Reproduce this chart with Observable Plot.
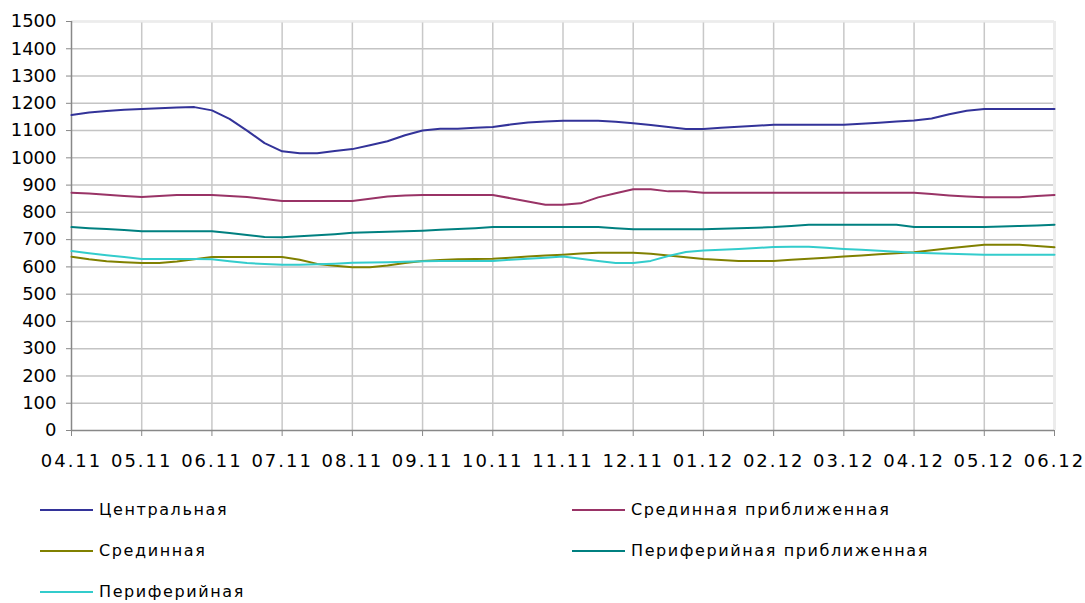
<!DOCTYPE html>
<html>
<head>
<meta charset="utf-8">
<script src="https://cdn.jsdelivr.net/npm/d3@7"></script>
<script src="https://cdn.jsdelivr.net/npm/@observablehq/plot@0.6"></script>
<style>
  html, body { margin: 0; padding: 0; background: #fff; }
  #wrap { width: 1085px; height: 603px; position: relative; font-family: "DejaVu Sans", Verdana, sans-serif; }
  #legend { position: absolute; left: 0; top: 500px; width: 1085px; }
  .item { position: absolute; display: flex; align-items: center; font-size: 16px; color: #000; letter-spacing: 1.6px; }
  .item .sw { width: 53px; height: 0; border-top: 2px solid; margin-right: 6px; }
  .xax text { letter-spacing: 2px; }
</style>
</head>
<body>
<div id="wrap">
  <div id="chart"></div>
  <div id="legend"></div>
</div>
<script>
// Month tick labels (x axis)
const monthLabels = ["04.11","05.11","06.11","07.11","08.11","09.11","10.11","11.11","12.11","01.12","02.12","03.12","04.12","05.12","06.12"];

// Series names
const seriesNames = ["Центральная","Срединная приближенная","Срединная","Периферийная приближенная","Периферийная"];
const seriesColors = ["#333399","#993366","#808000","#008080","#33CCCC"];

// Weekly readings (4 per month), 57 points from 04.11 to 06.12
const central = [1157,1166,1172,1176,1179,1182,1185,1186,1174,1143,1100,1054,1024,1017,1017,1025,1032,1046,1061,1083,1100,1107,1107,1110,1113,1122,1130,1133,1136,1136,1136,1132,1127,1120,1113,1106,1106,1110,1114,1118,1121,1121,1121,1121,1121,1125,1129,1133,1137,1144,1160,1173,1179,1179,1179,1179,1179];
const midApprox = [872,869,865,860,856,860,864,864,864,860,856,849,842,842,842,842,842,850,858,862,864,864,864,864,864,852,840,828,828,833,855,870,885,885,877,877,872,872,872,872,872,872,872,872,872,872,872,872,872,867,862,858,855,855,855,860,864];
const mid = [637,628,621,617,614,614,620,628,636,636,636,636,636,626,611,604,599,599,605,614,622,625,628,629,630,634,638,642,645,649,652,652,652,648,642,635,629,625,622,622,622,626,630,634,638,642,646,650,654,661,668,675,681,681,681,677,672];
const periphApprox = [746,742,739,735,731,731,731,731,731,724,717,710,709,712,716,720,725,727,729,731,733,736,739,742,746,746,746,746,746,746,746,742,738,738,738,738,738,740,742,744,746,750,755,755,755,755,755,755,746,746,746,746,746,748,750,752,755];
const periph = [658,650,643,636,629,629,629,629,628,621,614,611,608,608,610,612,615,616,617,619,621,622,622,622,622,626,630,634,638,630,622,614,614,622,640,655,660,663,666,669,673,674,674,670,666,663,659,656,652,650,648,646,645,645,645,645,645];

const allSeries = [central, midApprox, mid, periphApprox, periph];
const rows = [];
allSeries.forEach((arr, s) => arr.forEach((v, i) => rows.push({t: i / 4, v, s: seriesNames[s]})));

const chart = Plot.plot({
  width: 1085,
  height: 480,
  marginLeft: 71,
  marginRight: 31,
  marginTop: 21,
  marginBottom: 50,
  style: { fontFamily: '"DejaVu Sans", Verdana, sans-serif', fontSize: "18px", color: "#000", background: "#fff" },
  x: { domain: [0, 14], label: null },
  y: { domain: [0, 1500], label: null },
  color: { domain: seriesNames, range: seriesColors },
  marks: [
    Plot.gridY(d3.range(100, 1501, 100), { stroke: "#c4c4c4", strokeOpacity: 1, strokeWidth: 1.5 }),
    Plot.gridX(d3.range(1, 14), { stroke: "#c8c8c8", strokeOpacity: 1, strokeWidth: 1.5 }),
    Plot.ruleX([14], { stroke: "#ececec", strokeWidth: 3 }),
    Plot.ruleY([1500], { stroke: "#ececec", strokeWidth: 2 }),
    Plot.axisX({ className: "xax", tickSize: 6, tickPadding: 18, ticks: d3.range(0, 15), tickFormat: i => monthLabels[i], stroke: "#888", fill: "#000" }),
    Plot.axisY({ tickSize: 5, tickPadding: 10, ticks: d3.range(0, 1501, 100), tickFormat: d => String(d), stroke: "#888", fill: "#000" }),
    Plot.ruleX([0], { stroke: "#888", strokeWidth: 1.5 }),
    Plot.ruleY([0], { stroke: "#888", strokeWidth: 1.5 }),
    Plot.line(rows, { x: "t", y: "v", z: "s", stroke: "s", strokeWidth: 2 })
  ]
});
document.getElementById("chart").appendChild(chart);

// Legend: two columns
const legendPos = [[40, 0], [572, 0], [40, 41], [572, 41], [40, 82]];
const legend = document.getElementById("legend");
seriesNames.forEach((name, i) => {
  const it = document.createElement("div");
  it.className = "item";
  it.style.left = legendPos[i][0] + "px";
  it.style.top = legendPos[i][1] + "px";
  const sw = document.createElement("span");
  sw.className = "sw";
  sw.style.borderColor = seriesColors[i];
  const tx = document.createElement("span");
  tx.textContent = name;
  it.appendChild(sw);
  it.appendChild(tx);
  legend.appendChild(it);
});
</script>
</body>
</html>
